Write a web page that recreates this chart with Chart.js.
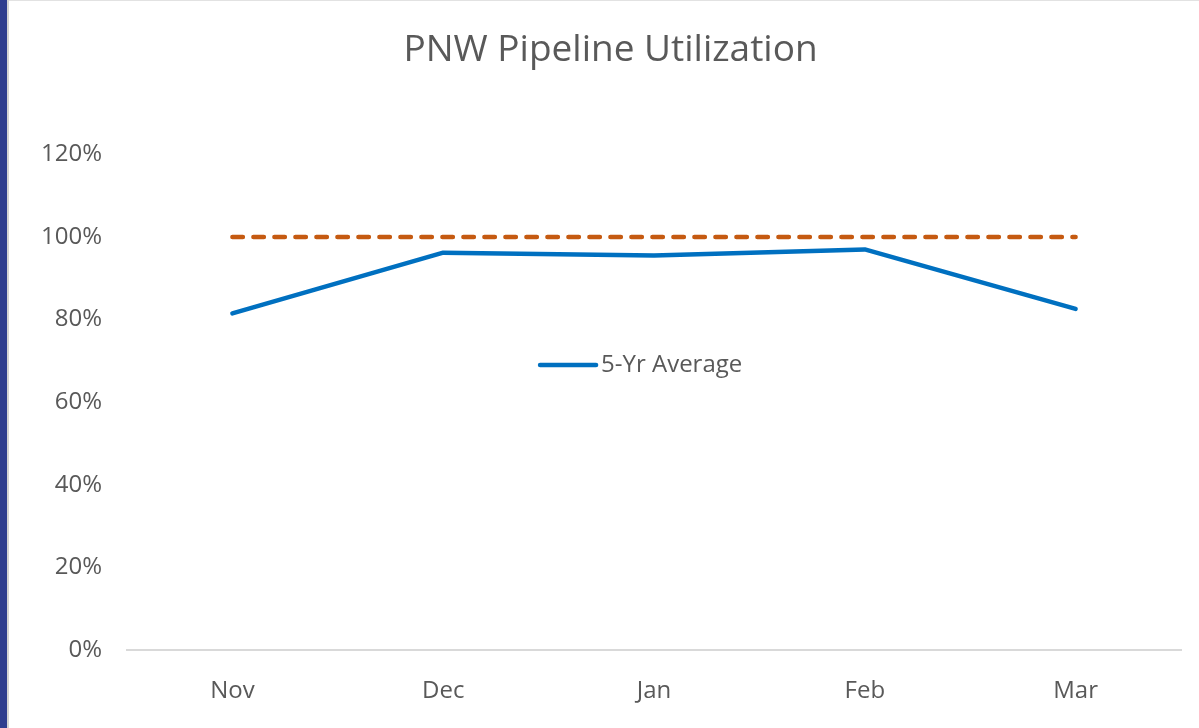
<!DOCTYPE html>
<html>
<head>
<meta charset="utf-8">
<script src="https://cdn.jsdelivr.net/npm/chart.js@4.4.0/dist/chart.umd.min.js"></script>
<style>
  body { margin: 0; background: #fff; }
  #wrap { position: relative; width: 1199px; height: 728px; overflow: hidden; }
  #strip { position: absolute; left: 0; top: 0; width: 7px; height: 728px; background: #2e3d8f; }
  #edge { position: absolute; left: 7px; top: 0; width: 2px; height: 728px; background: #d4d4d4; }
  #topedge { position: absolute; left: 9px; top: 0; width: 1190px; height: 1px; background: #e2e2e2; }
  canvas { position: absolute; left: 0; top: 0; }
</style>
</head>
<body>
<div id="wrap">
  <canvas id="pipeChart" width="1199" height="728"></canvas>
  <div id="strip"></div>
  <div id="edge"></div>
  <div id="topedge"></div>
</div>
<script>
// chart data
var months = ['Nov', 'Dec', 'Jan', 'Feb', 'Mar']
var fiveYrAvg = [81.5, 96.2, 95.5, 97.0, 82.6]
var capacity = [100, 100, 100, 100, 100]
var yTicks = [0, 20, 40, 60, 80, 100, 120]

var textColor = '#595959'
var fontFam = '"Open Sans", sans-serif'

// draws the single legend entry inside the plot, like the excel one
var midLegend = {
  id: 'midLegend',
  afterDraw: function (chart) {
    var ctx = chart.ctx
    var a = chart.chartArea
    var x = a.left + 0.39 * (a.right - a.left)
    var y = a.top + 0.425 * (a.bottom - a.top)
    ctx.save()
    ctx.strokeStyle = '#0070c0'
    ctx.lineWidth = 4.5
    ctx.lineCap = 'round'
    ctx.beginPath()
    ctx.moveTo(x + 2, y)
    ctx.lineTo(x + 58, y)
    ctx.stroke()
    ctx.fillStyle = textColor
    ctx.font = '24px ' + fontFam
    ctx.textAlign = 'left'
    ctx.textBaseline = 'middle'
    ctx.fillText('5-Yr Average', x + 63, y)
    ctx.restore()
  }
}

var ctx = document.getElementById('pipeChart').getContext('2d')
new Chart(ctx, {
  type: 'line',
  data: {
    labels: months,
    datasets: [
      {
        label: '5-Yr Average',
        data: fiveYrAvg,
        borderColor: '#0070c0',
        borderWidth: 4.5,
        borderCapStyle: 'round',
        borderJoinStyle: 'round',
        pointRadius: 0,
        tension: 0,
        fill: false
      },
      {
        label: 'Capacity',
        data: capacity,
        borderColor: '#c55a11',
        borderWidth: 4.5,
        borderCapStyle: 'round',
        borderDash: [10.5, 10.5],
        pointRadius: 0,
        tension: 0,
        fill: false
      }
    ]
  },
  options: {
    responsive: false,
    animation: false,
    layout: { padding: { left: 40, right: 18, top: 0, bottom: 0 } },
    plugins: {
      legend: { display: false },
      tooltip: { enabled: false },
      title: {
        display: true,
        text: 'PNW Pipeline Utilization',
        color: textColor,
        font: { family: fontFam, size: 37, weight: 'normal' },
        padding: { top: 28, bottom: 82 }
      }
    },
    scales: {
      x: {
        offset: true,
        grid: { display: false, drawTicks: false, offset: true },
        border: { display: true, color: '#d9d9d9', width: 2 },
        ticks: { color: textColor, font: { family: fontFam, size: 24 }, padding: 27, maxRotation: 0 },
        afterFit: function (s) { s.height = 78 }
      },
      y: {
        min: 0,
        max: 120,
        grid: { display: false, drawTicks: false },
        border: { display: false },
        afterBuildTicks: function (s) { s.ticks = yTicks.map(function (v) { return { value: v } }) },
        ticks: {
          color: textColor,
          font: { family: fontFam, size: 24 },
          padding: 25,
          callback: function (v) { return v + '%' }
        },
        afterFit: function (s) { s.width = 87 }
      }
    }
  },
  plugins: [midLegend]
})
</script>
</body>
</html>
